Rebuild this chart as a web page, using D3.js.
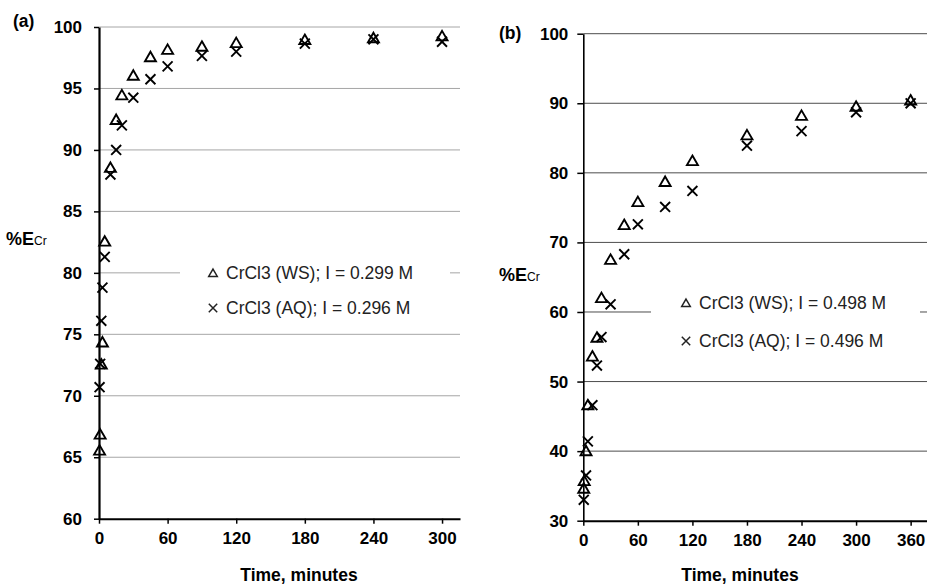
<!DOCTYPE html>
<html>
<head>
<meta charset="utf-8">
<script src="https://cdn.jsdelivr.net/npm/d3@7"></script>
<style>
  body { margin: 0; background: #fff; }
  text { font-family: Arial, "Liberation Sans", sans-serif; }
</style>
</head>
<body>
<script>
// panel (a), I ~ 0.3 M
const timeA_WS = [0.5, 1, 2, 3, 5, 10, 15, 20, 30, 45, 60, 90, 120, 180, 240, 300];
const valA_WS  = [65.6, 66.9, 72.6, 74.4, 82.6, 88.6, 92.5, 94.5, 96.1, 97.6, 98.2, 98.45, 98.75, 99.0, 99.15, 99.3];
const timeA_AQ = [0.5, 1, 2, 3, 5, 10, 15, 20, 30, 45, 60, 90, 120, 180, 240, 300];
const valA_AQ  = [70.7, 72.6, 76.1, 78.8, 81.3, 88.0, 90.0, 92.0, 94.25, 95.75, 96.8, 97.65, 98.0, 98.65, 99.0, 98.8];
const xTicksA = [0, 60, 120, 180, 240, 300];
const yTicksA = [60, 65, 70, 75, 80, 85, 90, 95, 100];
const legendA = ["CrCl3 (WS); I = 0.299 M", "CrCl3 (AQ); I = 0.296 M"];

// panel (b), I ~ 0.5 M
const timeB_WS = [0.5, 1, 3, 5, 10, 15, 20, 30, 45, 60, 90, 120, 180, 240, 300, 360];
const valB_WS  = [34.7, 35.8, 40.1, 46.7, 53.7, 56.4, 62.1, 67.6, 72.6, 75.9, 78.8, 81.8, 85.5, 88.3, 89.6, 90.5];
const timeB_AQ = [0.5, 3, 5, 10, 15, 20, 30, 45, 60, 90, 120, 180, 240, 300, 360];
const valB_AQ  = [33.0, 36.5, 41.4, 46.6, 52.3, 56.4, 61.1, 68.3, 72.6, 75.1, 77.4, 83.9, 86.0, 88.7, 90.0];
const xTicksB = [0, 60, 120, 180, 240, 300, 360];
const yTicksB = [30, 40, 50, 60, 70, 80, 90, 100];
const legendB = ["CrCl3 (WS); I = 0.498 M", "CrCl3 (AQ); I = 0.496 M"];

const svg = d3.select("body").append("svg").attr("width", 927).attr("height", 587);

function drawPanel(p) {
  const x = d3.scaleLinear().domain([0, p.xMax]).range([p.left, p.right]);
  const y = d3.scaleLinear().domain([p.yTicks[0], p.yTicks[p.yTicks.length - 1]]).range([p.bottom, p.top]);
  const g = svg.append("g");

  // horizontal gridlines
  g.selectAll("line.grid")
    .data(p.yTicks.slice(1))
    .enter().append("line")
    .attr("x1", p.left).attr("x2", p.right)
    .attr("y1", d => y(d)).attr("y2", d => y(d))
    .attr("stroke", p.gridColor).attr("stroke-width", 1);

  // legend background hides the gridline behind it
  g.append("rect")
    .attr("x", p.legBox[0]).attr("y", p.legBox[1])
    .attr("width", p.legBox[2]).attr("height", p.legBox[3])
    .attr("fill", "#fff");

  const yAxis = g.append("g")
    .attr("transform", `translate(${p.left},0)`)
    .call(d3.axisLeft(y).tickValues(p.yTicks).tickSize(p.tick).tickSizeOuter(0).tickPadding(p.yPad));
  const xAxis = g.append("g")
    .attr("transform", `translate(0,${p.bottom})`)
    .call(d3.axisBottom(x).tickValues(p.xTicks).tickSize(5).tickSizeOuter(0).tickPadding(8));

  [yAxis, xAxis].forEach(a => {
    a.attr("font-family", null).attr("font-size", null);
    a.select(".domain").attr("stroke", "#000").attr("stroke-width", 2);
    a.selectAll(".tick line").attr("stroke", "#000").attr("stroke-width", 1.5);
    a.selectAll(".tick text")
      .attr("fill", "#000")
      .style("font-size", "17px")
      .style("font-weight", "bold");
  });
  yAxis.select(".domain").attr("stroke-width", p.yAxisWidth);

  // data markers
  g.selectAll("path.ws")
    .data(d3.zip(p.wsT, p.wsV))
    .enter().append("path")
    .attr("d", d3.symbol(d3.symbolTriangle, 52))
    .attr("transform", d => `translate(${x(d[0])},${y(d[1]) + 1.6})`)
    .attr("fill", "none").attr("stroke", "#000").attr("stroke-width", 1.9);

  g.selectAll("path.aq")
    .data(d3.zip(p.aqT, p.aqV))
    .enter().append("path")
    .attr("d", d3.symbol(d3.symbolTimes, 66))
    .attr("transform", d => `translate(${x(d[0])},${y(d[1])})`)
    .attr("fill", "none").attr("stroke", "#000").attr("stroke-width", 1.9);

  // legend
  g.append("path")
    .attr("d", d3.symbol(d3.symbolTriangle, 32))
    .attr("transform", `translate(${p.legX},${p.legY[0] - 5})`)
    .attr("fill", "none").attr("stroke", "#222").attr("stroke-width", 1.5);
  g.append("path")
    .attr("d", d3.symbol(d3.symbolTimes, 48))
    .attr("transform", `translate(${p.legX},${p.legY[1] - 6})`)
    .attr("fill", "none").attr("stroke", "#222").attr("stroke-width", 1.5);
  g.selectAll("text.leg")
    .data(p.legend)
    .enter().append("text")
    .attr("x", p.legX + 13)
    .attr("y", (d, i) => p.legY[i])
    .attr("fill", "#222")
    .style("font-size", "17.5px")
    .text(d => d);

  // panel letter, y label, x label
  g.append("text")
    .attr("x", p.letterPos[0]).attr("y", p.letterPos[1])
    .style("font-size", "17.5px").style("font-weight", "bold")
    .text(p.letter);

  const yl = g.append("text")
    .attr("x", p.yLabelPos[0]).attr("y", p.yLabelPos[1])
    .style("font-size", "18px").style("font-weight", "bold");
  yl.append("tspan").text("%E");
  yl.append("tspan").style("font-size", "12px").style("font-weight", "normal").text("Cr");

  g.append("text")
    .attr("x", p.xLabelX).attr("y", 581)
    .attr("text-anchor", "middle")
    .style("font-size", "17.5px").style("font-weight", "bold")
    .text("Time, minutes");
}

drawPanel({
  wsT: timeA_WS, wsV: valA_WS, aqT: timeA_AQ, aqV: valA_AQ,
  xTicks: xTicksA, yTicks: yTicksA, legend: legendA,
  xMax: 315.7, left: 99, right: 460, top: 27, bottom: 518.7,
  tick: 5, yPad: 12, yAxisWidth: 2.2, gridColor: "#a6a6a6",
  legBox: [180, 256, 270, 66], legX: 213, legY: [279, 314],
  letter: "(a)", letterPos: [13, 27], yLabelPos: [6, 245], xLabelX: 299
});

drawPanel({
  wsT: timeB_WS, wsV: valB_WS, aqT: timeB_AQ, aqV: valB_AQ,
  xTicks: xTicksB, yTicks: yTicksB, legend: legendB,
  xMax: 378, left: 583.3, right: 927, top: 33.7, bottom: 520.7,
  tick: 6, yPad: 9, yAxisWidth: 1.6, gridColor: "#4d4d4d",
  legBox: [651, 290, 269, 68], legX: 686, legY: [309, 347],
  letter: "(b)", letterPos: [499, 39], yLabelPos: [499, 281], xLabelX: 740
});
</script>
</body>
</html>
